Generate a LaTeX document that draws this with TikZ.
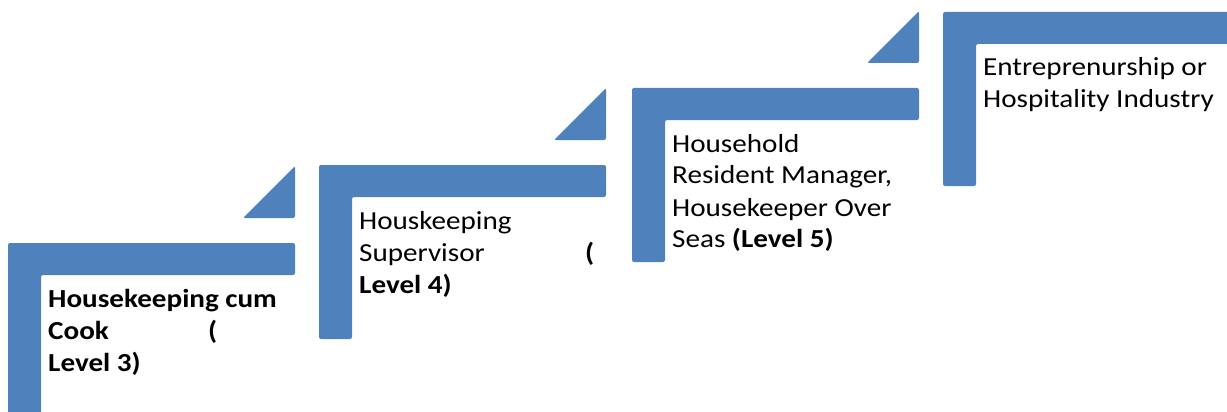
\documentclass[tikz,border=0pt]{standalone}
\usepackage{fontspec}
\setmainfont{Carlito}[FakeStretch=1.12]
\definecolor{stepblue}{HTML}{4F81BD}
\newcommand{\stepfont}{\fontsize{26}{32}\selectfont}
\tikzset{
  stepbar/.style={fill=stepblue, rounded corners=2pt},
  steptext/.style={anchor=base west, inner sep=0pt, text width=260pt, align=flush left, font=\stepfont}
}

\begin{document}
\begin{tikzpicture}[x=1pt,y=-1pt]
  \useasboundingbox (0,0) rectangle (1227,412);
  \clip (0,0) rectangle (1227,412);
  % the four steps
  \foreach \sx/\sy in {8/243, 319/165, 632/88, 943/12}
    \fill[stepbar] (\sx,\sy) -- ++(287,0) -- ++(0,32) -- ++(-254,0)
      -- ++(0,142) -- ++(-33,0) -- cycle;
  % heads pointing up to the next step
  \foreach \sx/\sy in {8/243, 319/165, 632/88}
    \fill[stepbar] (\sx+287,\sy-25) -- ++(0,-52) -- ++(-52,52) -- cycle;
  % labels
  \node[steptext, font=\stepfont\bfseries] (level3) at (48,307)
    {Housekeeping cum\\ \makebox[160pt][l]{Cook}(\\ Level 3)};
  \node[steptext] (level4) at (359,229)
    {Houskeeping\\ \makebox[226pt][l]{Supervisor}\textbf{(}\\ \textbf{Level 4)}};
  \node[steptext] (level5) at (672,152)
    {Household\\ Resident Manager,\\ Housekeeper Over\\ Seas \textbf{(Level 5)}};
  \node[steptext] (industry) at (983,76)
    {Entreprenurship or\\ Hospitality Industry};
\end{tikzpicture}
\end{document}
